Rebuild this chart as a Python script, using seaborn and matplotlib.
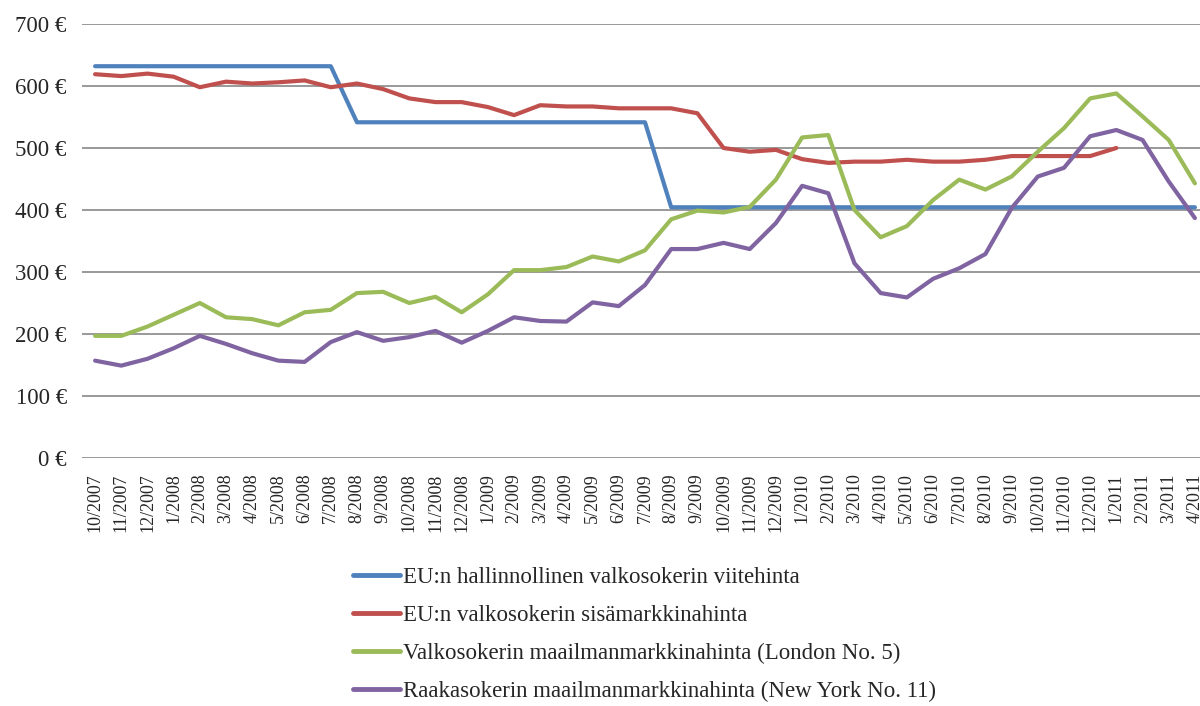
import numpy as np
import pandas as pd
import matplotlib
matplotlib.use("Agg")
import matplotlib.pyplot as plt
import seaborn as sns

# months on the category axis
months = ["10/2007", "11/2007", "12/2007",
          "1/2008", "2/2008", "3/2008", "4/2008", "5/2008", "6/2008",
          "7/2008", "8/2008", "9/2008", "10/2008", "11/2008", "12/2008",
          "1/2009", "2/2009", "3/2009", "4/2009", "5/2009", "6/2009",
          "7/2009", "8/2009", "9/2009", "10/2009", "11/2009", "12/2009",
          "1/2010", "2/2010", "3/2010", "4/2010", "5/2010", "6/2010",
          "7/2010", "8/2010", "9/2010", "10/2010", "11/2010", "12/2010",
          "1/2011", "2/2011", "3/2011", "4/2011"]

# EU reference price for white sugar (EUR/t)
eu_reference = [631.9] * 10 + [541.5] * 12 + [404.4] * 21

# EU internal market price, white sugar (no data after 1/2011)
eu_market = [619, 616, 620, 615, 598, 607, 604, 606, 609, 598,
             604, 595, 580, 574, 574, 566, 553, 569, 567, 567,
             564, 564, 564, 556, 500, 494, 497, 482, 476, 478,
             478, 481, 478, 478, 481, 487, 487, 487, 487, 500,
             np.nan, np.nan, np.nan]

# world market price, white sugar (London No. 5)
london5 = [197, 197, 212, 231, 250, 227, 224, 214, 235, 239,
           266, 268, 250, 260, 235, 264, 303, 303, 308, 325,
           317, 335, 385, 399, 396, 405, 449, 517, 521, 400,
           356, 374, 416, 449, 433, 454, 494, 532, 580, 588,
           551, 513, 443]

# world market price, raw sugar (New York No. 11)
newyork11 = [157, 149, 160, 177, 197, 184, 169, 157, 155, 187,
             203, 189, 195, 205, 186, 205, 227, 221, 220, 251,
             245, 279, 337, 337, 347, 337, 379, 439, 427, 314,
             266, 259, 289, 306, 329, 403, 454, 468, 519, 529,
             513, 446, 387]

series_names = ["EU:n hallinnollinen valkosokerin viitehinta",
                "EU:n valkosokerin sisämarkkinahinta",
                "Valkosokerin maailmanmarkkinahinta (London No. 5)",
                "Raakasokerin maailmanmarkkinahinta (New York No. 11)"]
colors = ["#4F81BD", "#C0504D", "#9BBB59", "#8064A2"]

# long form table for seaborn
frames = []
for name, vals in zip(series_names, [eu_reference, eu_market, london5, newyork11]):
    frames.append(pd.DataFrame({"idx": np.arange(len(months)),
                                "price": vals, "series": name}))
df = pd.concat(frames).dropna()

sns.set_style("white")
plt.rcParams["font.family"] = ["Liberation Serif", "DejaVu Serif"]

fig = plt.figure(figsize=(12, 7.06), dpi=100)
ax = fig.add_axes([82 / 1200, 1 - 458 / 706, 1126 / 1200, 434 / 706])

# horizontal gridlines behind the lines
ax.set_axisbelow(True)
ax.yaxis.grid(True, color="#878787", linewidth=1.2)
ax.xaxis.grid(False)

sns.lineplot(data=df, x="idx", y="price", hue="series",
             hue_order=series_names, palette=colors,
             linewidth=3, ax=ax, legend=False, sort=False)

ax.set_xlim(-0.5, 42.5)
ax.set_ylim(0, 700)
ax.set_yticks(range(0, 701, 100))
ax.set_yticklabels([f"{v} €" for v in range(0, 701, 100)], fontsize=16.5)
ax.set_xticks(range(len(months)))
ax.set_xticklabels(months, rotation=90, fontsize=13, va="top")
ax.tick_params(axis="y", length=0, pad=11)
ax.tick_params(axis="x", length=0, pad=11)
ax.set_xlabel("")
ax.set_ylabel("")
for s in ["top", "right", "left", "bottom"]:
    ax.spines[s].set_visible(False)

# legend below the chart
handles = [plt.Line2D([], [], color=c, linewidth=3.5) for c in colors]
fig.legend(handles, series_names, loc="center left",
           bbox_to_anchor=(353 / 1200, 1 - 634.5 / 706),
           frameon=False, fontsize=16.5, handlelength=2.05,
           handletextpad=0.15, labelspacing=0.75,
           borderpad=0, borderaxespad=0)

fig.savefig("out.png", dpi=100)
